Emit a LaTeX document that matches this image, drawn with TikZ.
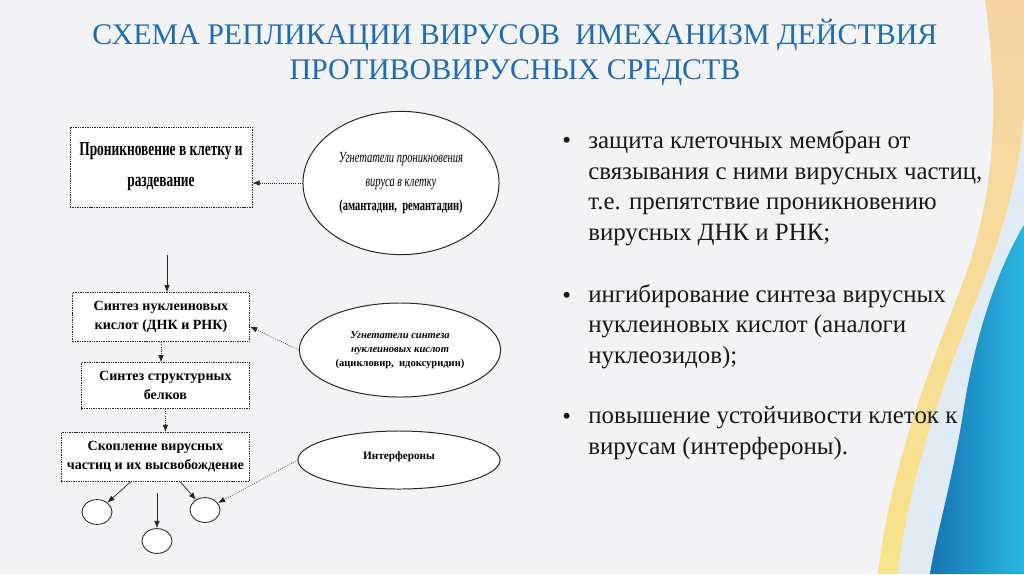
\documentclass[tikz,border=0pt]{standalone}
\usepackage{fontspec}
\setmainfont{Liberation Serif}
\newfontfamily\narrowserif[FakeStretch=0.68]{Liberation Serif}
\usetikzlibrary{arrows.meta, positioning, shapes.geometric}

\definecolor{slidebg}{RGB}{243,243,245}
\definecolor{titleblue}{RGB}{31,108,180}
\definecolor{bandpeach}{RGB}{246,212,166}
\definecolor{bandyellow}{RGB}{248,226,138}
\definecolor{palewave}{RGB}{224,235,244}
\definecolor{wavedark}{RGB}{22,116,178}
\definecolor{wavelight}{RGB}{42,182,224}
\definecolor{bodytext}{RGB}{25,25,25}

\begin{document}
\begin{tikzpicture}[
    x=0.025cm, y=-0.025cm,
    every node/.style={align=center, inner sep=0pt},
    stagebox/.style={
        draw=black!85,
        dash pattern=on 1pt off 0.7pt,
        line width=0.6pt,
        fill=white,
        font=\bfseries\fontsize{10pt}{13.5pt}\selectfont
    },
    drugoval/.style={
        ellipse,
        draw=black!85,
        line width=0.7pt,
        fill=white
    },
    virion/.style={
        ellipse,
        draw=black!85,
        line width=0.6pt,
        fill=white,
        minimum width=0.75cm,
        minimum height=0.62cm
    },
    link/.style={
        -{Latex[length=1.8mm, width=1.4mm]},
        line width=0.5pt,
        black!85
    },
    dotlink/.style={
        link,
        densely dotted
    },
    bulletmark/.style={
        anchor=base west,
        text=bodytext,
        font=\fontsize{17.7pt}{21.6pt}\selectfont
    },
    % multi-line node: base anchor sits on the last line
    bullettext/.style={
        anchor=base west,
        align=left,
        text=bodytext,
        font=\fontsize{17.7pt}{21.6pt}\selectfont
    }
]

% slide background
\fill[slidebg] (0,0) rectangle (1024,574);
\useasboundingbox (0,0) rectangle (1024,574);

% waves on the right
\fill[palewave] (980,290) .. controls (1010,215) and (1024,150) .. (1024,100)
    -- (1024,574) -- (898,574) .. controls (910,470) and (945,380) .. cycle;
\shade[left color=wavedark, right color=wavelight]
    (1024,225) .. controls (1000,265) and (975,330) .. (962,420)
    .. controls (950,490) and (935,540) .. (930,574) -- (1024,574) -- cycle;
\shade[top color=bandpeach, bottom color=bandyellow]
    (985,0) .. controls (1000,110) and (995,200) .. (960,290)
    .. controls (925,380) and (890,470) .. (878,574) -- (898,574)
    .. controls (910,470) and (945,380) .. (980,290)
    .. controls (1010,215) and (1024,150) .. (1024,100) -- (1024,0) -- cycle;

% title
\node[anchor=base, text=titleblue, font=\fontsize{21.3pt}{25pt}\selectfont]
    (title1) at (515,44) {СХЕМА РЕПЛИКАЦИИ ВИРУСОВ\ \ ИМЕХАНИЗМ ДЕЙСТВИЯ};
\node[anchor=base, text=titleblue, font=\fontsize{21.3pt}{25pt}\selectfont]
    (title2) at (515,79) {ПРОТИВОВИРУСНЫХ СРЕДСТВ};

% replication stages
\node[stagebox, minimum width=4.55cm, minimum height=2cm,
      font=\narrowserif\bfseries\fontsize{14pt}{22pt}\selectfont]
    (entry) at (161,167) {Проникновение в клетку и\\раздевание};
\node[stagebox, minimum width=4.43cm, minimum height=1.23cm, below=2.12cm of entry]
    (nucleic) {Синтез нуклеиновых\\кислот (ДНК и РНК)};
\node[stagebox, minimum width=4.2cm, minimum height=1.15cm, below=0.5cm of nucleic, xshift=0.11cm]
    (protein) {Синтез структурных\\белков};
\node[stagebox, minimum width=4.7cm, minimum height=1.23cm, below=0.57cm of protein, xshift=-0.25cm]
    (release) {Скопление вирусных\\частиц и их высвобождение};

% inhibitors
\node[drugoval, minimum width=4.9cm, minimum height=3.58cm,
      font=\narrowserif\fontsize{11pt}{17pt}\selectfont]
    (entryblock) at (401,183)
    {\textit{Угнетатели проникновения}\\\textit{вируса в клетку}\\\textbf{(амантадин,\ \ ремантадин)}};
\node[drugoval, minimum width=5.03cm, minimum height=2.35cm,
      font=\bfseries\fontsize{7.5pt}{10pt}\selectfont]
    (nucleicblock) at (400,350)
    {\textit{Угнетатели синтеза}\\\textit{нуклеиновых кислот}\\(ацикловир,\ \ идоксуридин)};
\node[drugoval, minimum width=5.05cm, minimum height=1.45cm,
      font=\bfseries\fontsize{8pt}{10pt}\selectfont]
    (interferon) at (399,460) {\raisebox{0.2cm}{Интерфероны}};

% new virions
\node[virion] (virionA) at (97,512) {};
\node[virion] (virionB) at (157,541) {};
\node[virion] (virionC) at (205,510) {};
\coordinate (inflow) at (167,255);
\coordinate (outflow) at (157,493);

\draw[dotlink] (entryblock.west) -- (entryblock.west -| entry.east);
\draw[link] (inflow) -- (inflow |- nucleic.north);
\draw[dotlink] (nucleicblock.west) -- (nucleic.-6);
\draw[dotlink] (nucleic.south) -- (nucleic.south |- protein.north);
\draw[dotlink] (protein.south) -- (protein.south |- release.north);
\draw[link] (release.-135) -- (virionA);
\draw[link] (release.-45) -- (virionC);
\draw[link] (outflow) -- (virionB);
\draw[dotlink] (interferon.west) -- (virionC);

% mechanisms
\node[bulletmark] (dot1) at (562,148) {•};
\node[bullettext] (mech1) at (588,240)
    {защита клеточных мембран от\\связывания с ними вирусных частиц,\\т.е. препятствие проникновению\\вирусных ДНК и РНК;};
\node[bulletmark] (dot2) at (562,303) {•};
\node[bullettext] (mech2) at (588,363)
    {ингибирование синтеза вирусных\\нуклеиновых кислот (аналоги\\нуклеозидов);};
\node[bulletmark] (dot3) at (562,424) {•};
\node[bullettext] (mech3) at (588,454)
    {повышение устойчивости клеток к\\вирусам (интерфероны).};

\end{tikzpicture}
\end{document}
